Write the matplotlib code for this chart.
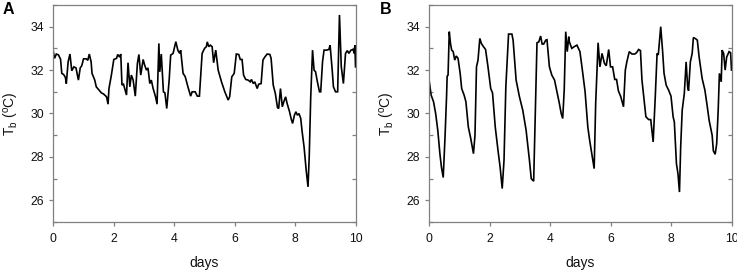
import matplotlib
matplotlib.use("Agg")
import matplotlib.pyplot as plt
from matplotlib.ticker import FixedLocator

plt.rcParams['font.family'] = ['Liberation Sans', 'DejaVu Sans']

# Panel A data (days, body temperature °C)
days_a = [0.0, 0.05, 0.11, 0.18, 0.25, 0.29, 0.35, 0.41, 0.44, 0.5, 0.56, 0.62, 0.69, 0.76, 0.84, 0.9,
          0.95, 1.01, 1.1, 1.15, 1.2, 1.26, 1.29, 1.38, 1.43, 1.52, 1.6, 1.67, 1.77, 1.82, 1.85, 1.93,
          2.01, 2.1, 2.14, 2.2, 2.24, 2.28, 2.33, 2.43, 2.48, 2.54, 2.59, 2.65, 2.72, 2.79, 2.84, 2.9,
          2.98, 3.03, 3.09, 3.14, 3.2, 3.25, 3.31, 3.39, 3.44, 3.5, 3.53, 3.58, 3.65, 3.7, 3.76, 3.84,
          3.89, 3.97, 4.06, 4.13, 4.19, 4.22, 4.3, 4.37, 4.46, 4.55, 4.6, 4.7, 4.77, 4.84, 4.93, 5.01,
          5.07, 5.1, 5.15, 5.2, 5.26, 5.31, 5.38, 5.46, 5.57, 5.68, 5.79, 5.84, 5.91, 5.99, 6.06, 6.14,
          6.19, 6.25, 6.3, 6.37, 6.45, 6.52, 6.56, 6.62, 6.67, 6.75, 6.8, 6.88, 6.94, 7.0, 7.08, 7.17,
          7.21, 7.28, 7.35, 7.42, 7.46, 7.52, 7.58, 7.63, 7.69, 7.74, 7.82, 7.87, 7.92, 7.98, 8.03,
          8.08, 8.13, 8.19, 8.23, 8.3, 8.37, 8.43, 8.47, 8.52, 8.58, 8.63, 8.68, 8.74, 8.81, 8.85,
          8.91, 8.96, 9.04, 9.12, 9.16, 9.23, 9.27, 9.34, 9.41, 9.47, 9.53, 9.6, 9.67, 9.73, 9.78,
          9.85, 9.92, 9.96, 9.98, 10.0]
tb_a = [32.95, 32.54, 32.74, 32.7, 32.5, 31.85, 31.8, 31.66, 31.38, 32.38, 32.74, 31.97, 32.15, 32.1,
        31.54, 32.1, 32.2, 32.52, 32.52, 32.45, 32.74, 32.38, 31.85, 31.54, 31.23, 31.08, 30.95, 30.9,
        30.77, 30.43, 31.15, 31.77, 32.49, 32.54, 32.72, 32.6, 32.74, 31.31, 31.35, 30.85, 32.34, 31.23,
        31.77, 31.54, 30.8, 32.31, 32.72, 31.77, 32.49, 32.23, 32.0, 32.1, 31.38, 31.54, 31.15, 30.77,
        30.43, 33.23, 31.92, 32.74, 31.0, 30.95, 30.23, 31.54, 32.69, 32.77, 33.31, 32.9, 32.77, 32.92,
        31.85, 31.7, 31.23, 30.8, 31.0, 31.0, 30.8, 30.8, 32.77, 33.0, 33.08, 33.3, 33.08, 33.15, 33.08,
        32.34, 32.92, 32.0, 31.46, 31.0, 30.62, 30.77, 31.69, 31.85, 32.74, 32.72, 32.49, 32.49, 31.77,
        31.57, 31.54, 31.46, 31.57, 31.38, 31.46, 31.15, 31.35, 31.38, 32.46, 32.6, 32.74, 32.72, 32.54,
        31.31, 30.92, 30.28, 30.23, 31.15, 30.31, 30.54, 30.77, 30.46, 30.08, 29.77, 29.54, 29.92, 30.08,
        29.92, 30.0, 29.77, 29.23, 28.46, 27.38, 26.62, 28.0, 30.77, 32.92, 32.0, 31.92, 31.46, 31.0,
        31.0, 32.38, 32.92, 32.92, 32.95, 33.15, 32.0, 31.23, 31.0, 31.0, 34.54, 32.15, 31.38, 32.77,
        32.9, 32.77, 32.92, 32.95, 32.77, 33.15, 32.15]

# Panel B data
days_b = [0.0, 0.07, 0.15, 0.22, 0.29, 0.36, 0.41, 0.47, 0.53, 0.58, 0.6, 0.63, 0.67, 0.71, 0.75, 0.8,
          0.85, 0.9, 0.96, 1.03, 1.08, 1.16, 1.22, 1.3, 1.38, 1.47, 1.52, 1.57, 1.62, 1.68, 1.73, 1.79,
          1.87, 1.95, 2.04, 2.1, 2.19, 2.28, 2.35, 2.42, 2.48, 2.54, 2.63, 2.74, 2.78, 2.88, 2.99, 3.1,
          3.21, 3.32, 3.38, 3.46, 3.52, 3.57, 3.63, 3.69, 3.74, 3.79, 3.86, 3.9, 3.98, 4.06, 4.15, 4.23,
          4.31, 4.37, 4.42, 4.47, 4.52, 4.57, 4.62, 4.64, 4.72, 4.8, 4.89, 4.99, 5.07, 5.16, 5.25, 5.31,
          5.39, 5.46, 5.51, 5.59, 5.65, 5.72, 5.8, 5.86, 5.94, 6.0, 6.07, 6.14, 6.2, 6.26, 6.34, 6.43,
          6.49, 6.54, 6.62, 6.71, 6.8, 6.86, 6.93, 6.99, 7.04, 7.11, 7.17, 7.26, 7.33, 7.41, 7.48, 7.54,
          7.58, 7.66, 7.72, 7.77, 7.84, 7.92, 8.0, 8.07, 8.11, 8.18, 8.23, 8.28, 8.32, 8.37, 8.44, 8.5,
          8.55, 8.58, 8.64, 8.7, 8.74, 8.81, 8.87, 8.93, 9.03, 9.12, 9.2, 9.26, 9.36, 9.4, 9.46, 9.51,
          9.56, 9.6, 9.66, 9.69, 9.74, 9.79, 9.84, 9.92, 9.97, 10.0]
tb_b = [31.57, 30.85, 30.54, 30.0, 29.23, 28.15, 27.54, 27.05, 28.92, 30.77, 31.72, 31.77, 33.77, 33.23,
        32.92, 32.85, 32.46, 32.65, 32.54, 31.85, 31.15, 30.85, 30.54, 29.38, 28.85, 28.15, 29.0, 32.15,
        32.46, 33.46, 33.23, 33.1, 32.95, 32.15, 31.15, 30.95, 29.38, 28.31, 27.54, 26.54, 27.85, 31.23,
        33.66, 33.66, 33.38, 31.54, 30.77, 30.15, 29.23, 27.85, 27.0, 26.88, 30.46, 33.26, 33.3, 33.57,
        33.2, 33.2, 33.38, 33.4, 32.15, 31.77, 31.54, 31.0, 30.46, 30.0, 29.77, 31.08, 33.77, 32.85,
        33.54, 33.3, 33.0, 33.08, 33.15, 32.85, 32.0, 31.0, 29.38, 28.77, 28.08, 27.46, 30.46, 33.26,
        32.15, 32.77, 32.31, 32.2, 32.95, 32.15, 32.15, 31.57, 31.57, 31.05, 30.77, 30.31, 32.0, 32.38,
        32.85, 32.74, 32.74, 32.8, 32.95, 32.9, 31.54, 30.62, 29.85, 29.72, 29.72, 28.69, 30.77, 32.77,
        32.7, 34.0, 32.92, 31.85, 31.31, 31.08, 30.8, 29.85, 29.61, 27.69, 27.23, 26.38, 28.46, 30.15,
        30.92, 32.38, 31.23, 31.05, 32.38, 32.77, 33.5, 33.45, 33.38, 32.6, 31.61, 31.08, 30.31, 29.69,
        29.0, 28.28, 28.12, 28.6, 30.15, 31.85, 31.46, 32.92, 32.77, 32.0, 32.6, 32.85, 32.8, 32.0]

panel_labels = ['A', 'B']
x_ticks = [0, 2, 4, 6, 8, 10]
y_ticks = [26, 28, 30, 32, 34]
y_minor = [25, 27, 29, 31, 33, 35]

fig = plt.figure(figsize=(7.37, 2.71), dpi=100)
ax_a = fig.add_axes([53 / 737, 49 / 271, 302.5 / 737, 217 / 271])
ax_b = fig.add_axes([429 / 737, 49 / 271, 302.5 / 737, 217 / 271])

spine_col = '#808080'
text_col = '#111111'
for ax, x, y, lab, lx in [(ax_a, days_a, tb_a, panel_labels[0], 3 / 737),
                          (ax_b, days_b, tb_b, panel_labels[1], 380 / 737)]:
    ax.plot(x, y, color='black', lw=1.2, solid_joinstyle='miter')
    ax.set_xlim(0, 10)
    ax.set_ylim(25, 35)
    ax.set_xticks(x_ticks)
    ax.set_yticks(y_ticks)
    ax.yaxis.set_minor_locator(FixedLocator(y_minor))
    for s in ax.spines.values():
        s.set_color(spine_col)
        s.set_linewidth(0.9)
    ax.tick_params(axis='both', which='both', colors=spine_col, labelcolor=text_col,
                   labelsize=8.8, width=0.9)
    ax.tick_params(axis='x', which='major', direction='out', length=3, pad=5)
    ax.tick_params(axis='y', which='major', direction='out', length=3, pad=3.5)
    ax.tick_params(axis='y', which='minor', direction='in', length=3, right=True, left=True)
    ax.set_xlabel('days', fontsize=10, labelpad=8, color=text_col)
    ax.set_ylabel(r'T$_\mathregular{b}$ ($^\mathregular{o}$C)', fontsize=10, labelpad=7, color=text_col)
    fig.text(lx, 1 - 10 / 271, lab, fontsize=11.5, fontweight='bold', va='center', ha='left')

fig.savefig('out.png', dpi=100)
